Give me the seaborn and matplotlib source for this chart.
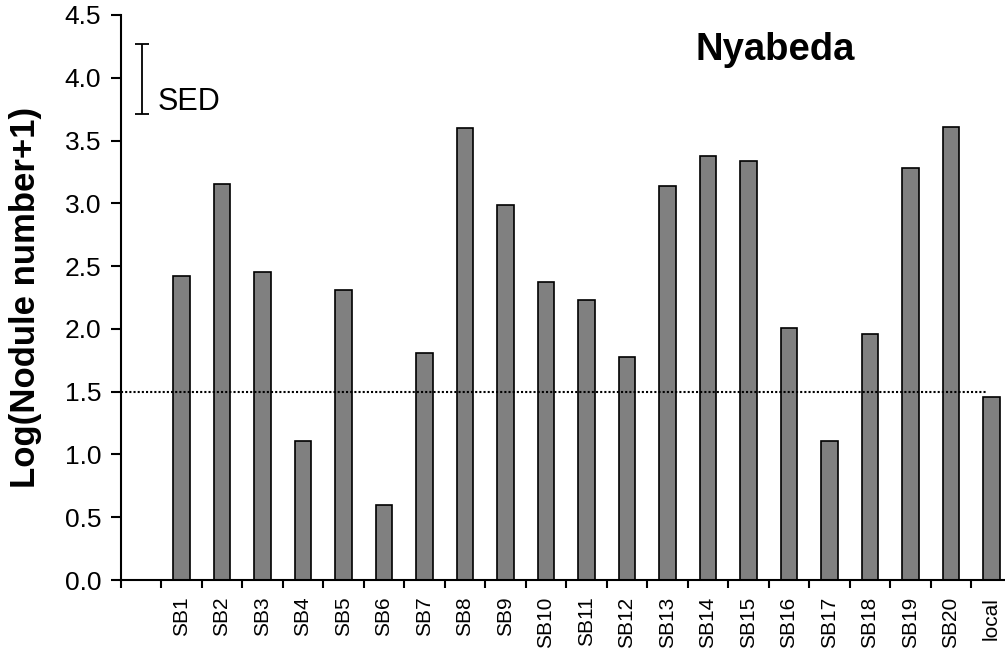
import numpy as np
import pandas as pd
import matplotlib
matplotlib.use("Agg")
import matplotlib.pyplot as plt
import seaborn as sns

# values
labels = ["SB1", "SB2", "SB3", "SB4", "SB5", "SB6", "SB7", "SB8", "SB9", "SB10",
          "SB11", "SB12", "SB13", "SB14", "SB15", "SB16", "SB17", "SB18", "SB19",
          "SB20", "local"]
values = [2.42, 3.15, 2.45, 1.11, 2.31, 0.60, 1.81, 3.60, 2.99, 2.37,
          2.23, 1.78, 3.14, 3.38, 3.34, 2.01, 1.11, 1.96, 3.28, 3.61, 1.46]
reference_level = 1.5
sed_center = 3.99
sed_half = 0.28

sns.set_style("ticks", {"axes.edgecolor": "black", "text.color": "black",
                        "axes.labelcolor": "black", "xtick.color": "black",
                        "ytick.color": "black"})
plt.rcParams["font.family"] = ["Liberation Sans", "DejaVu Sans"]

df = pd.DataFrame({"strain": labels, "value": values})
order = [""] + labels

fig = plt.figure(figsize=(10.05, 6.51), dpi=100)
ax = fig.add_axes([0.1201, 0.109, 0.8866, 0.868])

sns.barplot(data=df, x="strain", y="value", order=order, color="#808080",
            saturation=1, edgecolor="black", linewidth=1.2, width=0.4, ax=ax)

# threshold line
ax.plot([-0.5, 20.9], [reference_level, reference_level], color="black",
        linestyle=(0, (1, 1)), linewidth=1.5, zorder=5)

# SED bar
ax.errorbar([0.03], [sed_center], yerr=[sed_half], color="black", capsize=5,
            elinewidth=1.3, capthick=1.3)
ax.text(0.42, 3.81, "SED", fontsize=22, ha="left", va="center", color="black")

ax.text(15.66, 4.22, "Nyabeda", fontsize=27.5, fontweight="bold",
        ha="center", va="center", color="black")

ax.set_xlim(-0.5, 21.5)
ax.set_ylim(0, 4.5)
ax.set_yticks(np.arange(0, 4.51, 0.5))
ax.set_yticklabels([f"{v:.1f}" for v in np.arange(0, 4.51, 0.5)])
ax.set_xticks(range(len(order)))
ax.set_xticklabels(order, rotation=90, fontsize=15, va="top")
ax.set_xticks(np.arange(-0.5, 21.0, 1), minor=True)

ax.tick_params(axis="x", which="major", length=0, pad=12, colors="black")
ax.tick_params(axis="x", which="minor", length=6, width=1.5, direction="out",
               colors="black")
ax.tick_params(axis="y", length=7, width=1.5, labelsize=19, pad=7,
               direction="out", colors="black")

ax.set_xlabel("")
ax.set_ylabel("Log(Nodule number+1)", fontsize=25, fontweight="bold", color="black")
ax.yaxis.set_label_coords(-0.088, 0.5)

sns.despine(ax=ax)
for side in ["left", "bottom"]:
    ax.spines[side].set_linewidth(1.5)
    ax.spines[side].set_color("black")

fig.savefig("out.png", dpi=100)
